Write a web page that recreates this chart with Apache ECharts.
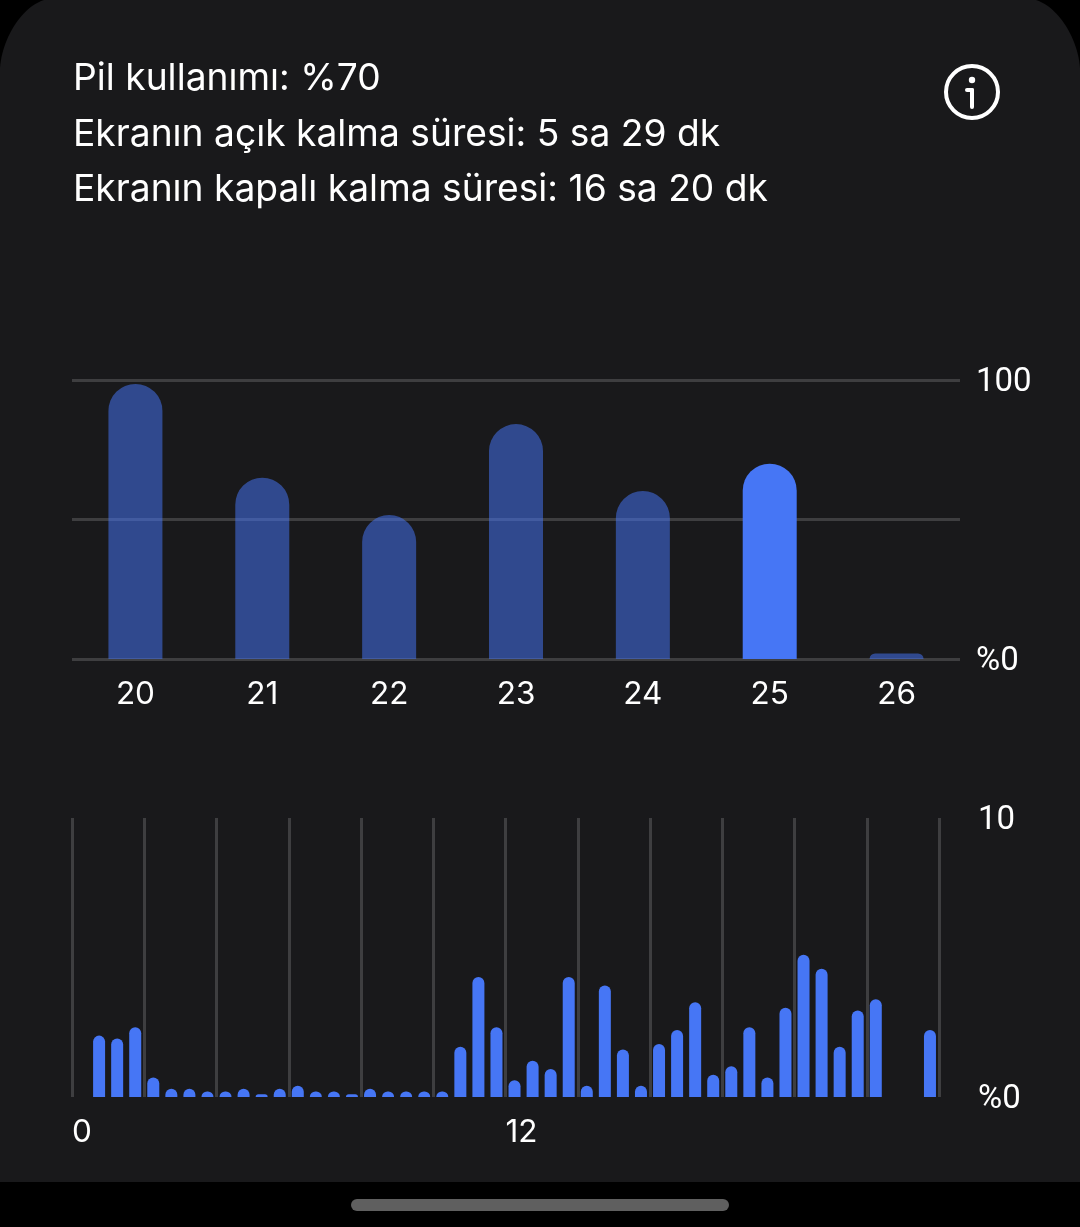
<!DOCTYPE html>
<html>
<head>
<meta charset="utf-8">
<style>html,body{margin:0;padding:0;background:#000}#c{width:1080px;height:1227px}</style>
<script src="https://cdn.jsdelivr.net/npm/echarts@6/dist/echarts.min.js"></script>
</head>
<body>
<div id="c"></div>
<script>
const summaryLines = ['Pil kullanımı: %70', 'Ekranın açık kalma süresi: 5 sa 29 dk', 'Ekranın kapalı kalma süresi: 16 sa 20 dk'];
const dayLabels = ['20', '21', '22', '23', '24', '25', '26'];
const dayValues = [98.6, 65, 51.6, 84.2, 60.2, 70, 2];
const selectedDay = '25';
const halfHourLabels = Array.from({length: 48}, (_, i) => String(i));
const halfHourValues = [null, 2.2, 2.1, 2.5, 0.7, 0.3, 0.3, 0.2, 0.2, 0.3, 0.1, 0.3, 0.4, 0.2, 0.2, 0.1, 0.3, 0.2, 0.2, 0.2, 0.2, 1.8, 4.3, 2.5, 0.6, 1.3, 1.0, 4.3, 0.4, 4.0, 1.7, 0.4, 1.9, 2.4, 3.4, 0.8, 1.1, 2.5, 0.7, 3.2, 5.1, 4.6, 1.8, 3.1, 3.5, null, null, 2.4];
const hourLabelsShown = [0, 12];

const BLUE = '#4676f5';
const LINE = '#3e3e40';
const CARD = '#19191b';
const lineStyle = {color: LINE, width: 3};
const chart = echarts.init(document.getElementById('c'), null, {renderer: 'canvas'});
const xLabel = {color: '#fff', fontFamily: 'Inter', fontSize: 31.5, padding: [2, 0, 0, 0]};
const yLabel = {
  color: '#fff', fontFamily: 'Roboto', fontSize: 33,
  rich: {t: {color: '#fff', fontFamily: 'Roboto', fontSize: 33, padding: [6, 0, 0, 0]}}
};

// Card outline: its top corners are taller than they are wide.
const cornerLeft = [];
for (let k = 0; k <= 24; k++) {
  const t = k / 24, u = 1 - t;
  cornerLeft.push([
    3 * u * u * t * 2 + 3 * u * t * t * 20 + t * t * t * 44,
    u * u * u * 68 + 3 * u * u * t * 40 + 3 * u * t * t * 8
  ]);
}
const cardOutline = [[0, 1182], ...cornerLeft, ...cornerLeft.map(p => [1080 - p[0], p[1]]).reverse(), [1080, 1182]];

chart.setOption({
  backgroundColor: '#000',
  animation: false,
  graphic: [
    {type: 'polygon', z: -10, shape: {points: cardOutline}, style: {fill: CARD}},
    {type: 'rect', z: -10, shape: {x: 351, y: 1199, width: 378, height: 12, r: 6}, style: {fill: '#5f5f5f'}},
    {type: 'circle', shape: {cx: 972, cy: 92, r: 26}, style: {fill: 'none', stroke: '#fff', lineWidth: 4}},
    {type: 'circle', shape: {cx: 972, cy: 80, r: 3.2}, style: {fill: '#fff'}},
    {type: 'line', shape: {x1: 967, y1: 90, x2: 972, y2: 90}, style: {stroke: '#fff', lineWidth: 4, lineCap: 'round'}},
    {type: 'line', shape: {x1: 972, y1: 90, x2: 972, y2: 107}, style: {stroke: '#fff', lineWidth: 4, lineCap: 'round'}},
    ...summaryLines.map((t, i) => ({
      type: 'text', x: 73, y: 79 + i * 55.5,
      style: {text: t, fill: '#fff', font: '37.2px Inter', verticalAlign: 'middle'}
    }))
  ],
  grid: [
    {left: 72, right: 120, top: 380, height: 279},
    {left: 72, right: 141, top: 818, height: 279}
  ],
  xAxis: [
    {type: 'category', gridIndex: 0, data: dayLabels, position: 'bottom',
     axisLine: {show: false}, axisTick: {show: false}, splitLine: {show: false},
     axisLabel: {...xLabel, margin: 18}},
    {type: 'category', gridIndex: 1, data: halfHourLabels, position: 'bottom', show: false},
    {type: 'value', gridIndex: 1, min: 0, max: 24, interval: 2, position: 'bottom',
     axisLine: {show: false}, axisTick: {show: false},
     splitLine: {show: true, lineStyle},
     axisLabel: {...xLabel, margin: 18, align: 'left', hideOverlap: false,
       showMinLabel: true, showMaxLabel: false,
       formatter: v => hourLabelsShown.includes(v) ? String(v) : ''}}
  ],
  yAxis: [
    {type: 'value', gridIndex: 0, min: 0, max: 100, interval: 50, position: 'right',
     axisLine: {show: false}, axisTick: {show: false},
     splitLine: {show: true, lineStyle},
     axisLabel: {...yLabel, margin: 16, align: 'left', formatter: v => v === 0 ? '{t|%0}' : (v === 100 ? '{t|100}' : '')}},
    {type: 'value', gridIndex: 1, min: 0, max: 10, interval: 10, position: 'right',
     axisLine: {show: false}, axisTick: {show: false}, splitLine: {show: false},
     axisLabel: {...yLabel, margin: 39, align: 'left', formatter: v => v === 0 ? '{t|%0}' : '{t|10}'}}
  ],
  series: [
    {type: 'bar', xAxisIndex: 0, yAxisIndex: 0, barWidth: 54,
     data: dayValues.map((v, i) => ({
       value: v,
       itemStyle: {color: BLUE, opacity: dayLabels[i] === selectedDay ? 1 : 0.53, borderRadius: [27, 27, 0, 0]}
     }))},
    {type: 'bar', xAxisIndex: 1, yAxisIndex: 1, barWidth: 12,
     itemStyle: {color: BLUE, borderRadius: [6, 6, 0, 0]},
     data: halfHourValues}
  ]
});
</script>
</body>
</html>
